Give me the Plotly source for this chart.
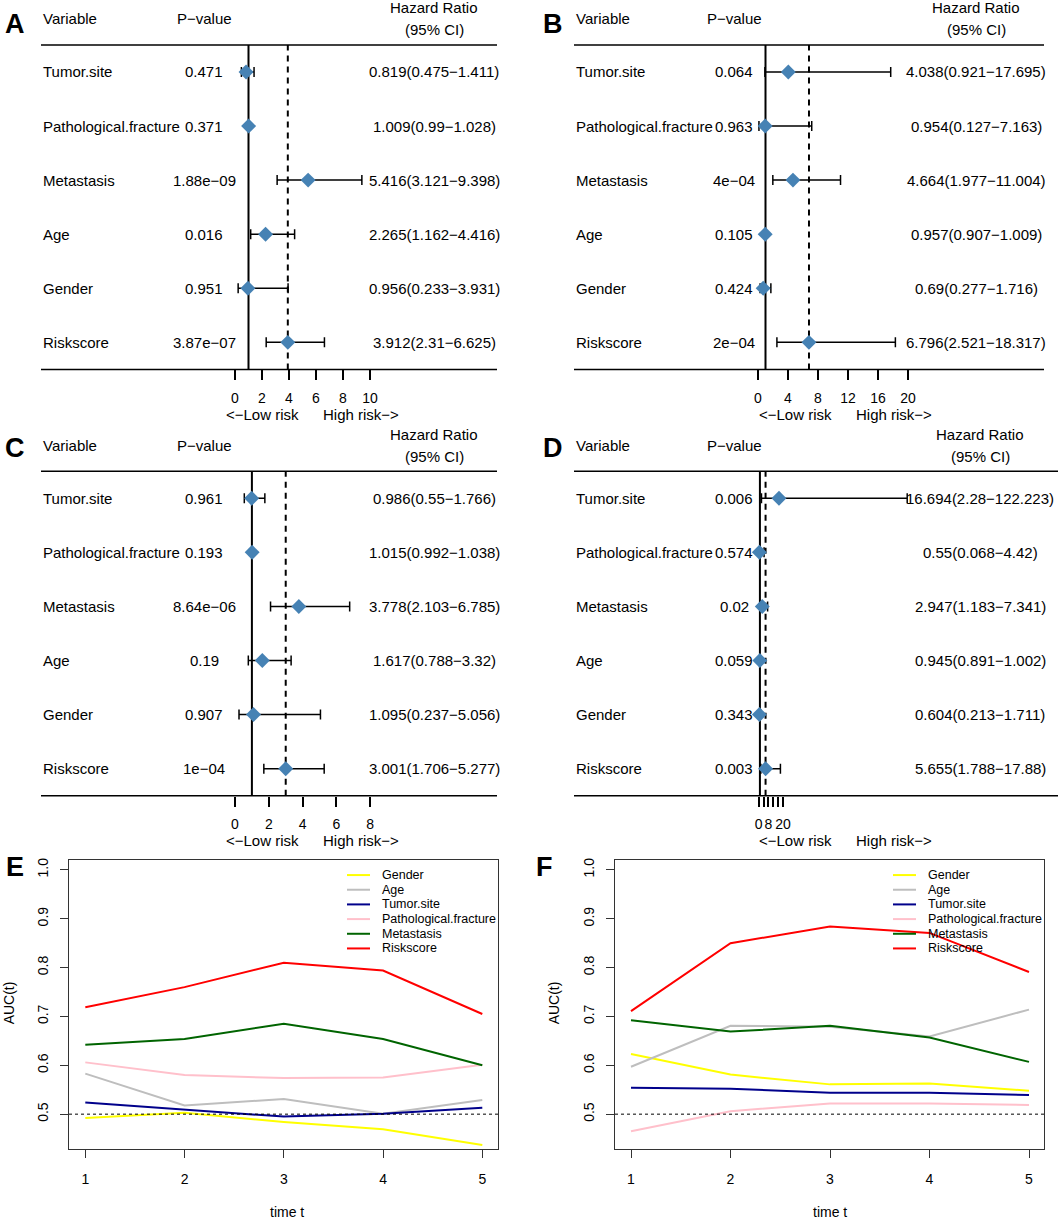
import plotly.graph_objects as go

W, H = 1062, 1220
FONT = "Liberation Sans, Arial, sans-serif"

# forest plot data (rows top to bottom)
variables = ["Tumor.site", "Pathological.fracture", "Metastasis", "Age", "Gender", "Riskscore"]

hr_A = [0.819, 1.009, 5.416, 2.265, 0.956, 3.912]
lo_A = [0.475, 0.99, 3.121, 1.162, 0.233, 2.31]
hi_A = [1.411, 1.028, 9.398, 4.416, 3.931, 6.625]
p_A = ["0.471", "0.371", "1.88e−09", "0.016", "0.951", "3.87e−07"]

hr_B = [4.038, 0.954, 4.664, 0.957, 0.69, 6.796]
lo_B = [0.921, 0.127, 1.977, 0.907, 0.277, 2.521]
hi_B = [17.695, 7.163, 11.004, 1.009, 1.716, 18.317]
p_B = ["0.064", "0.963", "4e−04", "0.105", "0.424", "2e−04"]

hr_C = [0.986, 1.015, 3.778, 1.617, 1.095, 3.001]
lo_C = [0.55, 0.992, 2.103, 0.788, 0.237, 1.706]
hi_C = [1.766, 1.038, 6.785, 3.32, 5.056, 5.277]
p_C = ["0.961", "0.193", "8.64e−06", "0.19", "0.907", "1e−04"]

hr_D = [16.694, 0.55, 2.947, 0.945, 0.604, 5.655]
lo_D = [2.28, 0.068, 1.183, 0.891, 0.213, 1.788]
hi_D = [122.223, 4.42, 7.341, 1.002, 1.711, 17.88]
p_D = ["0.006", "0.574", "0.02", "0.059", "0.343", "0.003"]

# time-dependent AUC data
times = [1, 2, 3, 4, 5]
auc_names = ["Gender", "Age", "Tumor.site", "Pathological.fracture", "Metastasis", "Riskscore"]
auc_colors = ["#FFFF00", "#BEBEBE", "#00008B", "#FFC0CB", "#006400", "#FF0000"]

auc_E = {
    "Gender": [0.492, 0.503, 0.484, 0.469, 0.437],
    "Age": [0.583, 0.518, 0.531, 0.501, 0.529],
    "Tumor.site": [0.524, 0.510, 0.495, 0.501, 0.513],
    "Pathological.fracture": [0.606, 0.580, 0.574, 0.575, 0.601],
    "Metastasis": [0.642, 0.654, 0.685, 0.654, 0.600],
    "Riskscore": [0.719, 0.760, 0.810, 0.794, 0.705],
}
auc_F = {
    "Gender": [0.623, 0.581, 0.561, 0.563, 0.548],
    "Age": [0.597, 0.681, 0.679, 0.659, 0.714],
    "Tumor.site": [0.554, 0.552, 0.544, 0.544, 0.539],
    "Pathological.fracture": [0.465, 0.506, 0.522, 0.522, 0.519],
    "Metastasis": [0.692, 0.669, 0.681, 0.657, 0.607],
    "Riskscore": [0.711, 0.850, 0.884, 0.871, 0.791],
}


def px(x):
    return x / W


def py(y):
    return 1 - y / H


fig = go.Figure()
layout = {}
shapes = []
annos = []


def txt(x, y, s, size=15, xanchor="center", yref="paper", **kw):
    annos.append(dict(x=x, y=y, xref="paper", yref=yref, text=s, showarrow=False,
                      xanchor=xanchor, yanchor="middle", font=dict(family=FONT, size=size, color="black"),
                      **kw))


def forest(k, hr, lo, hi, pv, left, right, zero, scale, dy, pcol, hrcol, tickvals, ticktext):
    xa = "xaxis%d" % k
    ya = "yaxis%d" % k
    top, bot = 43 + dy, 368 + dy
    layout[xa] = dict(domain=[px(left), px(right)], range=[(left - zero) / scale, (right - zero) / scale],
                      anchor="y%d" % k, showgrid=False, zeroline=False, showline=False,
                      ticks="outside", ticklen=10, tickwidth=1.5, tickcolor="black",
                      tickvals=tickvals, ticktext=ticktext, tickangle=0, ticklabelstandoff=6,
                      tickfont=dict(family=FONT, size=14, color="black"))
    layout[ya] = dict(domain=[py(bot), py(top)], range=[0.5, 6.5], anchor="x%d" % k,
                      visible=False, showgrid=False, zeroline=False)
    ys = [6, 5, 4, 3, 2, 1]
    fig.add_trace(go.Scatter(
        x=hr, y=ys, xaxis="x%d" % k, yaxis="y%d" % k, mode="markers", showlegend=False,
        marker=dict(symbol="diamond", size=11.5, color="#4682B4"),
        error_x=dict(type="data", symmetric=False,
                     array=[h - m for h, m in zip(hi, hr)],
                     arrayminus=[m - l for m, l in zip(hr, lo)],
                     color="black", thickness=1.5, width=5),
    ))
    # reference lines
    shapes.append(dict(type="line", xref="x%d" % k, yref="y%d" % k, x0=1, x1=1, y0=0.5, y1=6.5,
                       line=dict(color="black", width=2), layer="below"))
    shapes.append(dict(type="line", xref="x%d" % k, yref="y%d" % k, x0=hr[-1], x1=hr[-1], y0=0.5, y1=6.5,
                       line=dict(color="black", width=2, dash="6px,5px"), layer="below"))
    for yy in (top, bot):
        shapes.append(dict(type="line", xref="paper", yref="paper", x0=px(left), x1=px(right),
                           y0=py(yy), y1=py(yy), line=dict(color="black", width=1.5)))
    # headers
    txt(px(left), py(17 + dy), "Variable", xanchor="left")
    txt(px(pcol), py(17 + dy), "P−value")
    txt(px(hrcol), py(6 + dy), "Hazard Ratio")
    txt(px(hrcol), py(28 + dy), "(95% CI)")
    for v, p, h, l, u, yv in zip(variables, pv, hr, lo, hi, ys):
        txt(px(left), yv, v, xanchor="left", yref="y%d" % k)
        txt(px(pcol), yv, p, yref="y%d" % k)
        txt(px(hrcol), yv, "%s(%s−%s)" % (h, l, u), yref="y%d" % k)
    # risk direction labels
    txt(px(left + 221), py(413 + dy), "<−Low risk", size=15)
    txt(px(left + 320), py(413 + dy), "High risk−>", size=15)


forest(1, hr_A, lo_A, hi_A, p_A, 41, 497, 235, 13.5, 0, 204, 434,
       [0, 2, 4, 6, 8, 10], ["0", "2", "4", "6", "8", "10"])
forest(2, hr_B, lo_B, hi_B, p_B, 574, 1044, 758, 7.5, 0, 734, 976,
       [0, 4, 8, 12, 16, 20], ["0", "4", "8", "12", "16", "20"])
forest(3, hr_C, lo_C, hi_C, p_C, 41, 497, 235, 16.9, 427, 204, 434,
       [0, 2, 4, 6, 8], ["0", "2", "4", "6", "8"])
forest(4, hr_D, lo_D, hi_D, p_D, 574, 1058, 758.7, 1.215, 427, 734, 980,
       [0, 4, 8, 12, 16, 20], ["0", "", "8", "", "", "20"])


def auc_panel(k, data, left, right, x1px, x5px, ylab_x, time_x, leg_x):
    top, bot = 859, 1149
    scale = (x5px - x1px) / 4.0
    y_top, y_bot = 869.3, 1114.0
    ys = 0.5 / (y_bot - y_top)
    layout["xaxis%d" % k] = dict(domain=[px(left), px(right)],
                                 range=[1 - (x1px - left) / scale, 5 + (right - x5px) / scale],
                                 anchor="y%d" % k, showgrid=False, zeroline=False,
                                 showline=True, mirror=True, linecolor="#333333", linewidth=1,
                                 ticks="outside", ticklen=8, tickcolor="#333333",
                                 tickvals=times, ticklabelstandoff=9,
                                 tickfont=dict(family=FONT, size=14, color="black"))
    layout["yaxis%d" % k] = dict(domain=[py(bot), py(top)],
                                 range=[0.5 - (bot - y_bot) * ys, 1.0 + (y_top - top) * ys],
                                 anchor="x%d" % k, showgrid=False, zeroline=False,
                                 showline=True, mirror=True, linecolor="#333333", linewidth=1,
                                 ticks="outside", ticklen=8, tickcolor="#333333",
                                 tickvals=[0.5, 0.6, 0.7, 0.8, 0.9, 1.0],
                                 ticktext=["0.5", "0.6", "0.7", "0.8", "0.9", "1.0"],
                                 tickangle=-90, ticklabelstandoff=6,
                                 tickfont=dict(family=FONT, size=14, color="black"))
    shapes.append(dict(type="line", xref="x%d domain" % k, yref="y%d" % k, x0=0, x1=1, y0=0.5, y1=0.5,
                       line=dict(color="black", width=1, dash="3px,3px")))
    for i, (name, col) in enumerate(zip(auc_names, auc_colors)):
        fig.add_trace(go.Scatter(x=times, y=data[name], xaxis="x%d" % k, yaxis="y%d" % k,
                                 mode="lines", line=dict(color=col, width=2), showlegend=False, name=name))
        yy = 874.5 + i * 14.7
        shapes.append(dict(type="line", xref="paper", yref="paper", x0=px(leg_x), x1=px(leg_x + 23),
                           y0=py(yy), y1=py(yy), line=dict(color=col, width=2)))
        txt(px(leg_x + 33), py(yy), name, size=12.5, xanchor="left")
    txt(px(ylab_x), py(1003), "AUC(t)", size=14, textangle=-90)
    txt(px(time_x), py(1212), "time t", size=14)


auc_panel(5, auc_E, 69, 498, 85.3, 482.3, 9, 287, 347)
auc_panel(6, auc_F, 615, 1044, 631, 1029, 554, 830, 893)

# panel letters
for letter, x, y in [("A", 15, 22), ("B", 553, 22), ("C", 15, 447), ("D", 553, 447), ("E", 15, 866), ("F", 544, 866)]:
    annos.append(dict(x=px(x), y=py(y), xref="paper", yref="paper", text="<b>%s</b>" % letter,
                      showarrow=False, xanchor="center", yanchor="middle",
                      font=dict(family=FONT, size=27, color="black")))

fig.update_layout(width=W, height=H, margin=dict(l=0, r=0, t=0, b=0),
                  paper_bgcolor="white", plot_bgcolor="white",
                  shapes=shapes, annotations=annos, **layout)

fig.write_html("out.html", config={"displayModeBar": False},
               post_script="document.body.style.margin='0';document.body.style.overflow='hidden';")
